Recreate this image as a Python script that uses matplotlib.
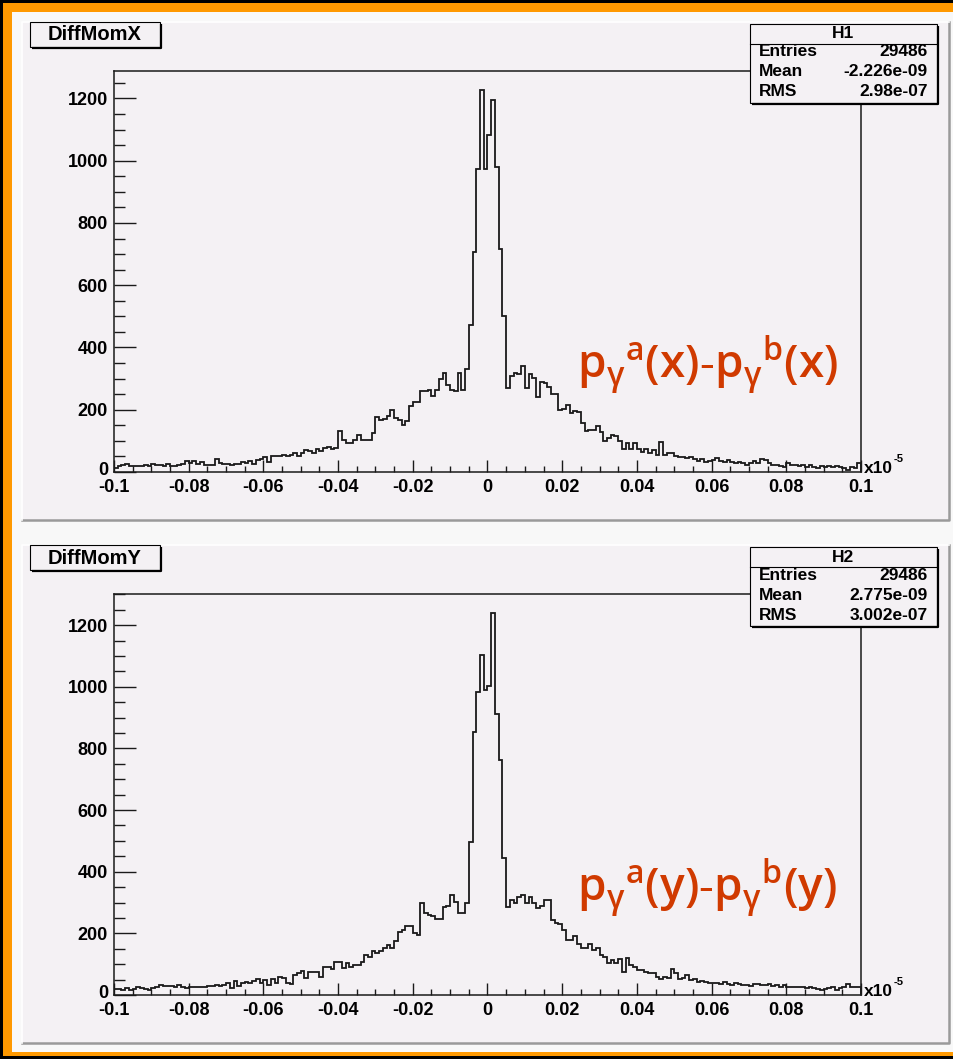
import numpy as np
import matplotlib.pyplot as plt
from matplotlib.patches import Rectangle
from matplotlib.lines import Line2D
from matplotlib.transforms import ScaledTranslation

W, H = 954, 1059

# 200 bins between -0.1 and 0.1 (x1e-5)
bin_edges = np.linspace(-0.1, 0.1, 201)

counts_x = [
    13, 18, 24, 26, 20, 18, 20, 18, 24, 18,
    26, 24, 24, 20, 26, 18, 20, 24, 27, 34,
    29, 34, 27, 31, 24, 24, 24, 42, 29, 27,
    26, 24, 27, 26, 31, 29, 34, 27, 40, 42,
    47, 31, 50, 52, 50, 56, 52, 56, 61, 50,
    61, 72, 66, 61, 74, 66, 77, 79, 74, 77,
    131, 104, 93, 93, 104, 120, 104, 104, 104, 125,
    177, 168, 170, 179, 200, 173, 166, 150, 163, 213,
    224, 224, 261, 261, 264, 245, 264, 300, 318, 280,
    263, 260, 318, 263, 330, 472, 708, 975, 1227, 975,
    1082, 1195, 981, 716, 502, 269, 308, 318, 315, 340,
    269, 314, 301, 242, 289, 285, 274, 250, 250, 199,
    201, 214, 188, 196, 194, 158, 132, 135, 135, 149,
    127, 101, 108, 119, 116, 101, 73, 92, 74, 94,
    73, 65, 73, 60, 71, 55, 97, 55, 60, 60,
    51, 49, 47, 44, 47, 41, 36, 41, 33, 35,
    39, 44, 36, 33, 39, 33, 28, 33, 28, 22,
    28, 36, 28, 41, 39, 28, 22, 22, 19, 17,
    28, 22, 22, 19, 22, 17, 22, 17, 12, 19,
    15, 19, 15, 19, 17, 12, 6, 17, 12, 28,
]

counts_y = [
    19, 18, 16, 22, 16, 18, 25, 22, 19, 16,
    22, 27, 32, 29, 29, 30, 27, 32, 27, 24,
    27, 25, 27, 27, 27, 29, 29, 32, 29, 32,
    38, 22, 46, 29, 38, 43, 38, 46, 51, 38,
    49, 32, 51, 40, 59, 54, 40, 36, 65, 70,
    79, 54, 76, 76, 76, 59, 92, 92, 84, 108,
    108, 86, 105, 92, 97, 97, 108, 130, 124, 143,
    135, 144, 151, 162, 151, 175, 205, 211, 224, 224,
    200, 194, 299, 265, 259, 256, 248, 248, 286, 290,
    324, 302, 265, 265, 299, 497, 853, 983, 1104, 989,
    1002, 1239, 913, 764, 443, 286, 308, 299, 317, 324,
    299, 319, 297, 283, 288, 308, 308, 243, 234, 230,
    211, 180, 180, 191, 167, 151, 151, 167, 146, 151,
    130, 124, 105, 113, 105, 116, 76, 119, 97, 92,
    81, 81, 76, 72, 70, 59, 51, 59, 54, 83,
    70, 51, 54, 65, 49, 51, 43, 46, 43, 40,
    38, 40, 36, 43, 36, 32, 38, 36, 32, 32,
    29, 36, 36, 32, 32, 36, 29, 32, 27, 32,
    25, 25, 27, 25, 27, 22, 27, 22, 18, 16,
    18, 22, 25, 16, 22, 25, 36, 25, 25, 25,
]

x_ticks = [-0.1, -0.08, -0.06, -0.04, -0.02, 0, 0.02, 0.04, 0.06, 0.08, 0.1]
x_tick_labels = ["-0.1", "-0.08", "-0.06", "-0.04", "-0.02", "0",
                 "0.02", "0.04", "0.06", "0.08", "0.1"]
y_ticks = [0, 200, 400, 600, 800, 1000, 1200]

panels = [
    dict(title="DiffMomX", name="H1", entries="29486",
         mean="-2.226e-09", rms="2.98e-07", counts=counts_x,
         formula="$\\mathrm{p_{\\gamma}{}^{a}(x){\u2010}p_{\\gamma}{}^{b}(x)}$"),
    dict(title="DiffMomY", name="H2", entries="29486",
         mean="2.775e-09", rms="3.002e-07", counts=counts_y,
         formula="$\\mathrm{p_{\\gamma}{}^{a}(y){\u2010}p_{\\gamma}{}^{b}(y)}$"),
]

ORANGE = "#ff9900"
CANVAS = "#f8f8f8"
PAD = "#f4f1f4"
RED = "#d03a00"
LABEL_FONT = dict(family="Liberation Sans", weight="bold")

plt.rcParams["mathtext.fontset"] = "custom"
plt.rcParams["mathtext.rm"] = "Open Sans:weight=semibold"
plt.rcParams["mathtext.it"] = "Open Sans:weight=semibold"


def fx(x):
    return x / W


def fy(y):
    return 1 - y / H


def add_rect(fig, x0, y0, x1, y1, **kw):
    r = Rectangle((fx(x0), fy(y1)), (x1 - x0) / W, (y1 - y0) / H,
                  transform=fig.transFigure, **kw)
    fig.add_artist(r)


def add_line(fig, xs, ys, **kw):
    fig.add_artist(Line2D([fx(x) for x in xs], [fy(y) for y in ys],
                          transform=fig.transFigure, **kw))


def draw_box(fig, x0, y0, x1, y1):
    # ROOT style box with a dark drop shadow
    add_rect(fig, x0, y0, x1, y1, facecolor=PAD, edgecolor="black",
             lw=0.8, zorder=5)
    add_line(fig, [x0 + 2, x1 + 1, x1 + 1], [y1 + 1, y1 + 1, y0 + 2],
             color="black", lw=1.6, zorder=5, solid_capstyle="butt")


def draw_panel(fig, p, dy):
    # pad
    add_rect(fig, 22, 22 + dy, 949, 520 + dy, facecolor=PAD,
             edgecolor="none", zorder=-5)
    add_line(fig, [22, 949, 949], [520 + dy, 520 + dy, 22 + dy],
             color="#9a9a9a", lw=1.8, zorder=-4)
    add_line(fig, [22, 22, 949], [520 + dy, 22 + dy, 22 + dy],
             color="white", lw=1.2, zorder=-4)

    ax = fig.add_axes([fx(114), fy(472 + dy), 747 / W, 401 / H])
    ax.set_facecolor(PAD)
    counts = np.array(p["counts"])
    ax.stairs(counts, bin_edges, color="#1a1a1a", lw=1.3)
    ax.set_xlim(-0.1, 0.1)
    ax.set_ylim(0, 1.05 * counts.max())

    ax.set_xticks(x_ticks)
    ax.set_xticklabels(x_tick_labels)
    ax.set_xticks(np.arange(-0.1, 0.1001, 0.005), minor=True)
    ax.set_yticks(y_ticks)
    ax.set_yticks(np.arange(0, 1.05 * counts.max(), 50), minor=True)
    ax.tick_params(which="both", direction="in", top=False, right=False,
                   color="#1a1a1a", width=1.0)
    ax.tick_params(axis="y", which="major", length=15.8, pad=4.3)
    ax.tick_params(axis="y", which="minor", length=7.9)
    ax.tick_params(axis="x", which="major", length=8.6, pad=5.2)
    ax.tick_params(axis="x", which="minor", length=4.3)
    for lab in ax.get_xticklabels() + ax.get_yticklabels():
        lab.set_fontfamily("Liberation Sans")
        lab.set_fontweight("bold")
        lab.set_fontsize(13)
    # nudge the zero label up so it clears the -0.1 just below it
    zero = ax.get_yticklabels()[0]
    zero.set_transform(zero.get_transform()
                       + ScaledTranslation(0, 2.6 / 72, fig.dpi_scale_trans))
    for s in ax.spines.values():
        s.set_linewidth(1.1)
        s.set_color("#1a1a1a")

    # axis multiplier
    fig.text(fx(864), fy(473 + dy), "x10", fontsize=12.5, va="baseline",
             ha="left", **LABEL_FONT)
    fig.text(fx(894), fy(462 + dy), "-5", fontsize=8, va="baseline",
             ha="left", **LABEL_FONT)

    # title box
    draw_box(fig, 30, 22 + dy, 160, 47 + dy)
    fig.text(fx(95), fy(35 + dy), p["title"], fontsize=14.5, ha="center",
             va="center", zorder=6, **LABEL_FONT)

    # stats box
    draw_box(fig, 750, 24 + dy, 937, 103 + dy)
    add_line(fig, [750, 937], [44 + dy, 44 + dy], color="black", lw=0.8,
             zorder=6)
    fig.text(fx(843), fy(34 + dy), p["name"], fontsize=12.5, ha="center",
             va="center", zorder=6, **LABEL_FONT)
    rows = [("Entries", p["entries"]), ("Mean", p["mean"]), ("RMS", p["rms"])]
    for i, (key, val) in enumerate(rows):
        yc = 52 + 20 * i + dy
        fig.text(fx(759), fy(yc), key, fontsize=12.5, ha="left", va="center",
                 zorder=6, **LABEL_FONT)
        fig.text(fx(928), fy(yc), val, fontsize=12.5, ha="right",
                 va="center", zorder=6, **LABEL_FONT)

    # formula annotation
    fig.text(fx(577), fy(378 + dy), p["formula"], fontsize=33, color=RED,
             ha="left", va="baseline", zorder=6)


fig = plt.figure(figsize=(W / 100, H / 100), dpi=100)
fig.patch.set_facecolor("black")

add_rect(fig, 3, 3, 960, 1056, facecolor=ORANGE, edgecolor="none",
         zorder=-20)
add_rect(fig, 12, 12, 960, 1052, facecolor=CANVAS, edgecolor="none",
         zorder=-10)

draw_panel(fig, panels[0], 0)
draw_panel(fig, panels[1], 523)

fig.savefig("out.png", dpi=100, facecolor=fig.get_facecolor())
